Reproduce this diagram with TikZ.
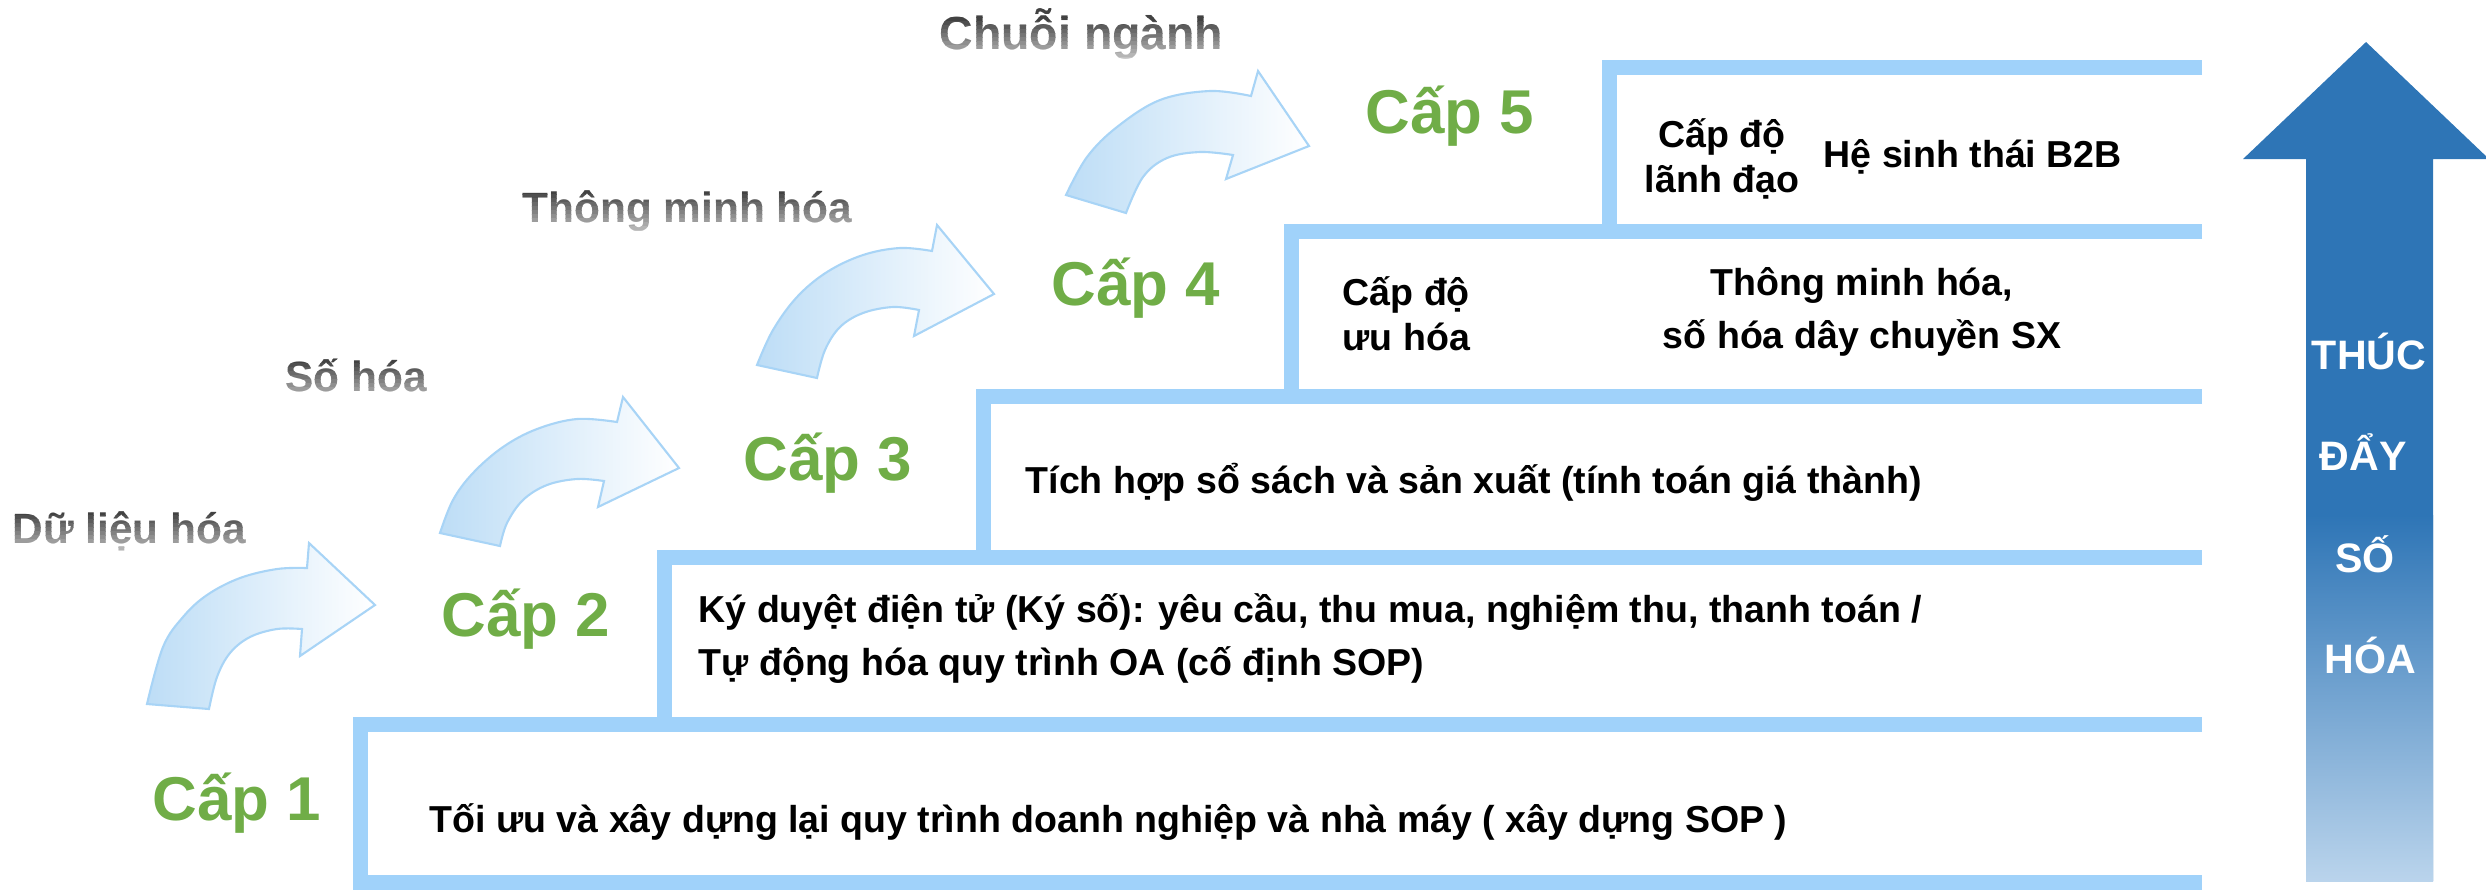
\documentclass[tikz,border=0pt]{standalone}
\usepackage{fontspec}
\setmainfont{Liberation Sans}
\definecolor{boxblue}{RGB}{160,210,250}
\definecolor{capgreen}{RGB}{112,173,71}
\definecolor{arrowblue}{RGB}{46,117,182}
\definecolor{arrowlight}{RGB}{186,212,236}
\definecolor{curvefill}{RGB}{189,221,246}
\definecolor{curveline}{RGB}{168,212,246}
\tikzset{
  boxline/.style={draw=boxblue, line width=0.15cm, line join=miter, line cap=butt},
  body/.style={anchor=base west, inner sep=0pt, font=\fontsize{10.67}{12}\selectfont\bfseries},
  bodyc/.style={anchor=base, inner sep=0pt, font=\fontsize{10.67}{12}\selectfont\bfseries},
  caplbl/.style={anchor=base west, inner sep=0pt, text=capgreen, font=\fontsize{17.6}{20}\selectfont\bfseries},
  graylbl/.style={anchor=base west, inner sep=0pt},
  curvearrow/.style={draw=curveline, line width=0.6pt, left color=curvefill, right color=white},
  bigtxt/.style={anchor=base, inner sep=0pt, text=white, font=\fontsize{11.7}{14}\selectfont\bfseries},
}
\newcommand\gradlabel[5]{%
  \foreach \k in {0,...,16}{%
    \pgfmathsetmacro\gya{#3-52+4*\k}%
    \pgfmathsetmacro\gyb{\gya+4.6}%
    \pgfmathsetmacro\gfrac{max(0,min(1,(\gya+2-(#3-30))/40))}%
    \pgfmathsetmacro\gpct{74-50*\gfrac}%
    \begin{scope}
      \clip (#2-20,\gya) rectangle (#2+420,\gyb);
      \node[graylbl, font=\fontsize{#4}{#4}\selectfont\bfseries, text=black!\gpct] (#1-\k) at (#2,#3) {#5};
    \end{scope}
  }%
}
\begin{document}
\begin{tikzpicture}[x=0.01cm, y=-0.01cm]
\useasboundingbox (0,0) rectangle (2486,890);

% staircase boxes
\draw[boxline] (2202,67) -- (1609,67) -- (1609,239);
\draw[boxline] (2202,231) -- (1291,231) -- (1291,404);
\draw[boxline] (2202,396) -- (983,396) -- (983,564);
\draw[boxline] (2202,557) -- (664,557) -- (664,732);
\draw[boxline] (2202,724) -- (360,724) -- (360,882) -- (2202,882);

% level labels
\node[caplbl] (c1) at (152,820) {Cấp 1};
\node[caplbl] (c2) at (441,636) {Cấp 2};
\node[caplbl] (c3) at (743,480) {Cấp 3};
\node[caplbl] (c4) at (1051,305) {Cấp 4};
\node[caplbl] (c5) at (1365,133) {Cấp 5};

% box texts
\node[body] (t1) at (429,832) {Tối ưu và xây dựng lại quy trình doanh nghiệp và nhà máy ( xây dựng SOP )};
\node[body] (t2a) at (698,622) {Ký duyệt điện tử (Ký số): yêu cầu, thu mua, nghiệm thu, thanh toán /};
\node[body] (t2b) at (698,675) {Tự động hóa quy trình OA (cố định SOP)};
\node[body] (t3) at (1025,493) {Tích hợp sổ sách và sản xuất (tính toán giá thành)};
\node[body] (t4a) at (1342,305) {Cấp độ};
\node[body] (t4b) at (1342,350) {ưu hóa};
\node[bodyc] (t4c) at (1862,295) {Thông minh hóa,};
\node[bodyc] (t4d) at (1862,348) {số hóa dây chuyền SX};
\node[bodyc] (t5a) at (1722,147) {Cấp độ};
\node[bodyc] (t5b) at (1722,192) {lãnh đạo};
\node[body] (t5c) at (1823,167) {Hệ sinh thái B2B};

% gradient gray labels
\gradlabel{g1}{12}{543}{12.05}{Dữ liệu hóa}
\gradlabel{g2}{285}{391}{12.05}{Số hóa}
\gradlabel{g3}{522}{222}{12.05}{Thông minh hóa}
\gradlabel{g4}{939}{49}{13.2}{Chuỗi ngành}

% curved arrows
\path[curvearrow] plot[smooth, tension=0.6] coordinates {(147,704) (163,647) (183,617) (207,595) (240,578) (277,569) (307,568)}
  -- (309,543) -- (375,605) -- (300,656) -- (302,629)
  -- plot[smooth, tension=0.6] coordinates {(302,629) (277,629) (250,637) (230,653) (217,677) (209,709)} -- cycle;
\path[curvearrow] plot[smooth, tension=0.6] coordinates {(440,533) (453,500) (473,473) (503,447) (537,429) (577,419) (617,422)}
  -- (623,397) -- (679,468) -- (598,507) -- (604,481)
  -- plot[smooth, tension=0.6] coordinates {(604,481) (577,479) (547,485) (523,500) (507,523) (500,546)} -- cycle;
\path[curvearrow] plot[smooth, tension=0.6] coordinates {(757,365) (773,330) (797,297) (827,272) (863,255) (900,248) (932,251)}
  -- (937,225) -- (994,294) -- (914,336) -- (919,310)
  -- plot[smooth, tension=0.6] coordinates {(919,310) (893,307) (863,313) (840,327) (825,350) (817,378)} -- cycle;
\path[curvearrow] plot[smooth, tension=0.6] coordinates {(1066,195) (1087,157) (1117,127) (1160,100) (1210,91) (1251,96)}
  -- (1258,71) -- (1309,146) -- (1226,179) -- (1233,155)
  -- plot[smooth, tension=0.6] coordinates {(1233,155) (1200,152) (1167,158) (1143,177) (1126,213)} -- cycle;

% big arrow
\fill[arrowblue] (2243,159) -- (2366,42) -- (2489,159) -- (2433,159) -- (2433,881) -- (2306,881) -- (2306,159) -- cycle;
\shade[top color=arrowblue, bottom color=arrowlight] (2306,515) rectangle (2433,881);
\node[bigtxt] (b1) at (2369,369) {THÚC};
\node[bigtxt] (b2) at (2363,470) {ĐẨY};
\node[bigtxt] (b3) at (2365,572) {SỐ};
\node[bigtxt] (b4) at (2370,673) {HÓA};
\end{tikzpicture}
\end{document}
